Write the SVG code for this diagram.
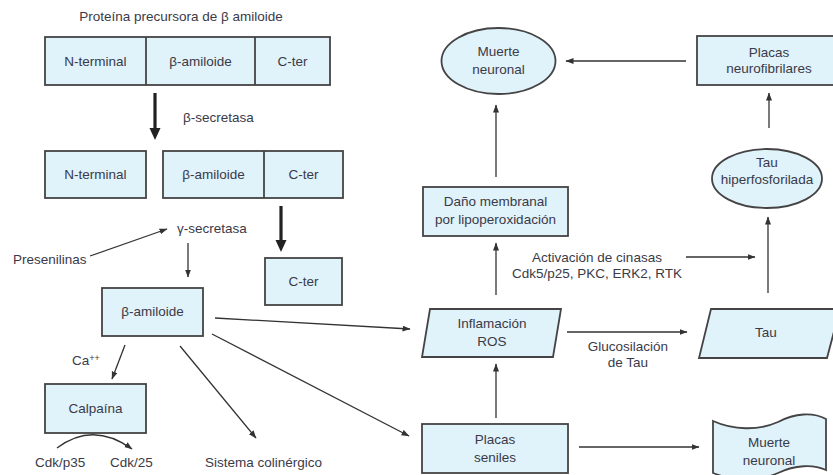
<svg xmlns="http://www.w3.org/2000/svg" width="833" height="475" viewBox="0 0 833 475">
<defs>
<style>
.bx{fill:#e0f2fa;stroke:#444;stroke-width:1.8}
.t{font-family:"Liberation Sans",Arial,sans-serif;font-size:13.5px;fill:#3a3a48;text-anchor:middle}
.tl{font-family:"Liberation Sans",Arial,sans-serif;font-size:13.5px;fill:#3a3a48}
.c{stroke:#333;stroke-width:1.3;fill:none;marker-end:url(#ah)}
.cb{stroke:#222;stroke-width:3.2;fill:none;marker-end:url(#ahb)}
</style>
<marker id="ah" markerUnits="userSpaceOnUse" markerWidth="9" markerHeight="7" refX="7.5" refY="3" orient="auto"><path d="M0,0 L8,3 L0,6 Z" fill="#333"/></marker>
<marker id="ahb" markerUnits="userSpaceOnUse" markerWidth="13" markerHeight="12" refX="2" refY="5.5" orient="auto"><path d="M0,0 L12,5.5 L0,11 Z" fill="#222"/></marker>
</defs>
<rect width="833" height="475" fill="#fff"/>

<text class="t" x="181" y="21">Proteína precursora de β amiloide</text>

<g id="app">
<rect class="bx" x="45" y="37" width="285" height="48"/>
<line x1="146" y1="37" x2="146" y2="85" stroke="#444" stroke-width="1.8"/>
<line x1="255" y1="37" x2="255" y2="85" stroke="#444" stroke-width="1.8"/>
<text class="t" x="95.5" y="66">N-terminal</text>
<text class="t" x="200.5" y="66">β-amiloide</text>
<text class="t" x="292.5" y="66">C-ter</text>
</g>

<g id="nterm2">
<rect class="bx" x="45" y="151" width="101" height="47"/>
<text class="t" x="95.5" y="179">N-terminal</text>
</g>

<g id="bamy-cter">
<rect class="bx" x="163" y="151" width="180" height="47"/>
<line x1="264" y1="151" x2="264" y2="198" stroke="#444" stroke-width="1.8"/>
<text class="t" x="213.5" y="179">β-amiloide</text>
<text class="t" x="303.5" y="179">C-ter</text>
</g>

<g id="cter">
<rect class="bx" x="265" y="258" width="77" height="47"/>
<text class="t" x="303.5" y="286">C-ter</text>
</g>

<g id="bamy">
<rect class="bx" x="102" y="288" width="101" height="48"/>
<text class="t" x="152.5" y="316">β-amiloide</text>
</g>

<g id="calpaina">
<rect class="bx" x="45" y="384" width="101" height="49"/>
<text class="t" x="95.5" y="413">Calpaína</text>
</g>

<g id="muerte1">
<ellipse class="bx" cx="498.5" cy="61" rx="57" ry="33"/>
<text class="t" x="498.5" y="56">Muerte</text>
<text class="t" x="498.5" y="74">neuronal</text>
</g>

<g id="placasneuro">
<rect class="bx" x="697" y="36" width="140" height="49"/>
<text class="t" x="769" y="57">Placas</text>
<text class="t" x="769" y="73">neurofibrilares</text>
</g>

<g id="dano">
<rect class="bx" x="423" y="187" width="145" height="49"/>
<text class="t" x="495.5" y="206">Daño membranal</text>
<text class="t" x="495.5" y="224">por lipoperoxidación</text>
</g>

<g id="tauhiper">
<ellipse class="bx" cx="767" cy="178.5" rx="55" ry="29.5"/>
<text class="t" x="767" y="167">Tau</text>
<text class="t" x="767" y="184">hiperfosforilada</text>
</g>

<g id="inflamacion">
<path class="bx" d="M430,309 L561,309 L553,357 L422,357 Z"/>
<text class="t" x="492" y="328">Inflamación</text>
<text class="t" x="492" y="346">ROS</text>
</g>

<g id="tau">
<path class="bx" d="M711,309 L840,309 L827,358 L699,358 Z"/>
<text class="t" x="766" y="337">Tau</text>
</g>

<g id="placasseniles">
<rect class="bx" x="422" y="424" width="146" height="49"/>
<text class="t" x="495" y="444">Placas</text>
<text class="t" x="495" y="462">seniles</text>
</g>

<g id="muerte2">
<path class="bx" d="M713,421 C733,430 758,431 778,422 C795,413 813,412 826,419 L826,470 C813,464 795,465 778,473 C758,482 733,481 713,473 Z"/>
<text class="t" x="769" y="447">Muerte</text>
<text class="t" x="769" y="465">neuronal</text>
</g>

<g id="labels">
<text class="tl" x="183" y="122">β-secretasa</text>
<text class="tl" x="177" y="233">γ-secretasa</text>
<text class="tl" x="13" y="264">Presenilinas</text>
<text class="tl" x="72" y="365">Ca<tspan font-size="9" dy="-4">++</tspan></text>
<text class="tl" x="35" y="467">Cdk/p35</text>
<text class="tl" x="110" y="467">Cdk/25</text>
<text class="tl" x="205" y="467">Sistema colinérgico</text>
<text class="t" x="597" y="262">Activación de cinasas</text>
<text class="t" x="597" y="278">Cdk5/p25, PKC, ERK2, RTK</text>
<text class="t" x="628" y="351">Glucosilación</text>
<text class="t" x="628" y="367">de Tau</text>
</g>

<g id="connectors">
<line class="cb" x1="155" y1="93" x2="155" y2="130"/>
<line class="cb" x1="281" y1="206" x2="281" y2="242"/>
<line class="c" x1="90" y1="256" x2="167" y2="229"/>
<line class="c" x1="188" y1="243" x2="188" y2="277"/>
<line class="c" x1="125" y1="345" x2="112" y2="379"/>
<line class="c" x1="180" y1="346" x2="256" y2="438"/>
<line class="c" x1="215" y1="318" x2="410" y2="329"/>
<line class="c" x1="212" y1="334" x2="409" y2="436"/>
<path class="c" d="M57,448 Q93,421 132,449"/>
<line class="c" x1="496" y1="418" x2="496" y2="364"/>
<line class="c" x1="496" y1="295" x2="496" y2="243"/>
<line class="c" x1="496" y1="177" x2="496" y2="105"/>
<line class="c" x1="686" y1="61" x2="566" y2="61"/>
<line class="c" x1="768" y1="293" x2="768" y2="217"/>
<line class="c" x1="769" y1="128" x2="769" y2="93"/>
<line class="c" x1="686" y1="257" x2="755" y2="257"/>
<line class="c" x1="567" y1="332" x2="687" y2="332"/>
<line class="c" x1="579" y1="447" x2="699" y2="447"/>
</g>
</svg>
